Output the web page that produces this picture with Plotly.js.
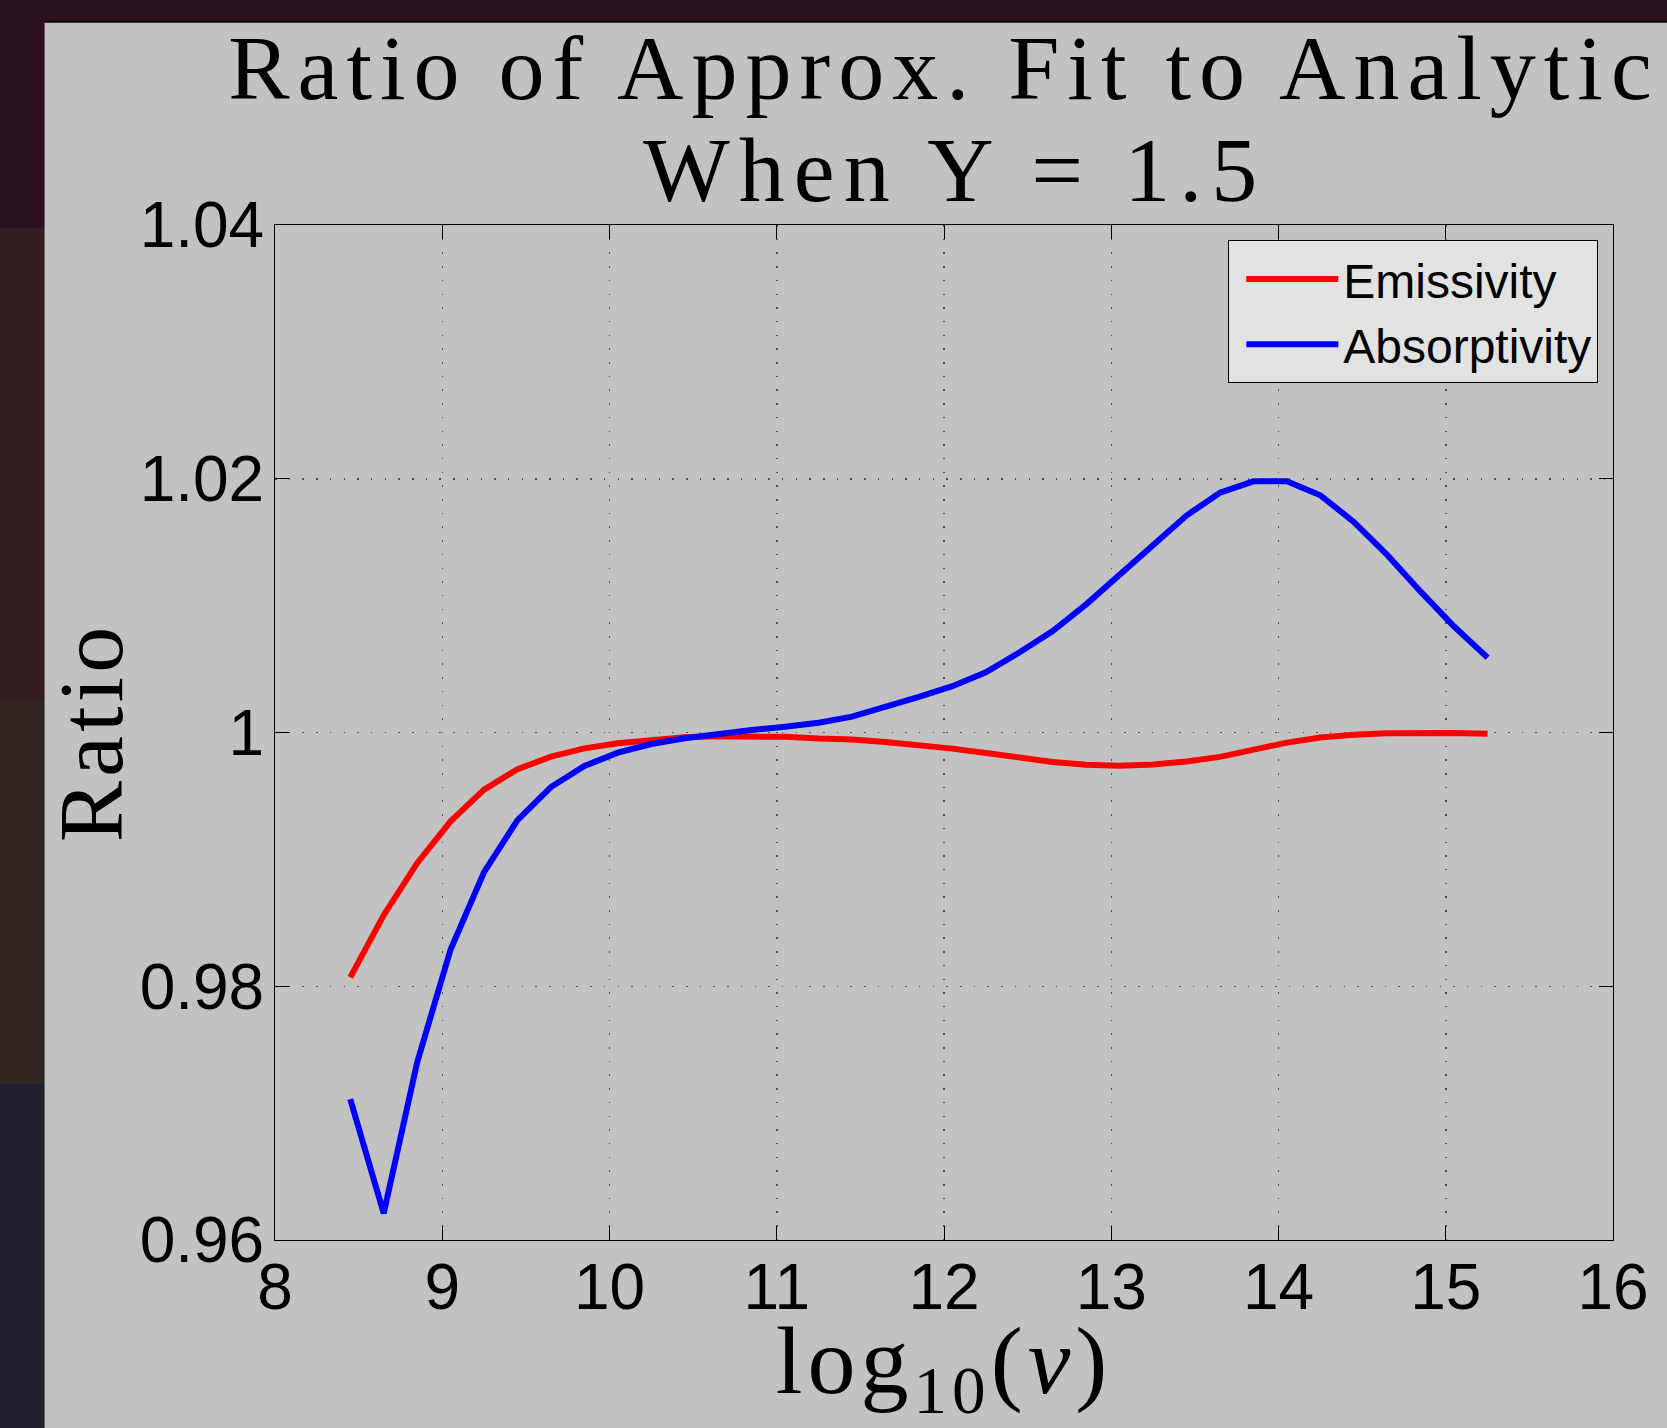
<!DOCTYPE html>
<html>
<head>
<meta charset="utf-8">
<script src="https://cdn.plot.ly/plotly-3.0.1.min.js"></script>
<style>
  html, body { margin: 0; padding: 0; }
  body {
    width: 1667px; height: 1428px; overflow: hidden; position: relative;
    background: linear-gradient(to bottom,
      #2e1121 0px, #2e1121 228px,
      #351e21 228px, #351e21 700px,
      #312621 700px, #312621 1084px,
      #22202f 1084px, #22202f 1428px);
  }
  #chart { position: absolute; left: 0; top: 0; width: 1667px; height: 1428px; }
  .gtitle { letter-spacing: 8px; }
  .annotation-text { letter-spacing: 9px; }
  .ytitle { letter-spacing: 4px; }
  .xtitle { letter-spacing: 5px; }
  .g-ytitle { transform: translateX(27px); }
</style>
</head>
<body>
<div id="chart"></div>
<script>
// log10(nu) sample points
const logNu = [8.45, 8.65, 8.85, 9.05, 9.25, 9.45, 9.65, 9.85, 10.05, 10.25,
               10.45, 10.65, 10.85, 11.05, 11.25, 11.45, 11.65, 11.85, 12.05, 12.25,
               12.45, 12.65, 12.85, 13.05, 13.25, 13.45, 13.65, 13.85, 14.05, 14.25,
               14.45, 14.65, 14.85, 15.05, 15.25];

const emissivity = [0.9807, 0.9856, 0.9897, 0.9930, 0.9955, 0.9971, 0.9981, 0.99875, 0.99915, 0.99942,
                    0.99962, 0.99970, 0.99972, 0.99966, 0.99952, 0.99945, 0.99925, 0.99900, 0.99873, 0.99838,
                    0.99800, 0.99768, 0.99746, 0.99738, 0.99748, 0.99772, 0.99808, 0.99865, 0.99920, 0.99960,
                    0.99983, 0.99994, 1.00000, 0.99996, 0.99990];

const absorptivity = [0.9711, 0.9621, 0.9740, 0.9829, 0.9890, 0.9931, 0.9957, 0.99736, 0.99841, 0.99909,
                      0.99954, 0.99990, 1.00020, 1.00045, 1.00077, 1.00125, 1.00200, 1.00280, 1.00365, 1.00475,
                      1.00630, 1.00800, 1.01010, 1.01240, 1.01480, 1.01710, 1.01890, 1.01980, 1.01980, 1.01870,
                      1.01660, 1.01400, 1.01110, 1.00835, 1.00590];

const xTicks = [8, 9, 10, 11, 12, 13, 14, 15, 16];
const yTicks = [0.96, 0.98, 1, 1.02, 1.04];
const yTickText = ['0.96', '0.98', '1', '1.02', '1.04'];

const seriesNames = ['Emissivity', 'Absorptivity'];
const seriesColors = ['#ff0000', '#0000ff'];

const titleLine1 = 'Ratio of Approx. Fit to Analytic';
const titleLine2 = 'When Y = 1.5';

const serif = 'Liberation Serif, Times New Roman, serif';
const sans = 'Liberation Sans, Arial, Helvetica, sans-serif';

const traces = [
  { x: logNu, y: emissivity, name: seriesNames[0], type: 'scatter', mode: 'lines',
    line: { color: seriesColors[0], width: 6 } },
  { x: logNu, y: absorptivity, name: seriesNames[1], type: 'scatter', mode: 'lines',
    line: { color: seriesColors[1], width: 6 } }
];

const axisCommon = {
  showline: true, linecolor: '#000', linewidth: 1, mirror: 'ticks',
  ticks: 'inside', ticklen: 14, tickwidth: 1, tickcolor: '#000',
  showgrid: true, gridcolor: '#505050', gridwidth: 1.5, griddash: '1.5px,12.2px',
  zeroline: false,
  tickfont: { family: sans, size: 64, color: '#000' }
};

// figure window (gray panel with black top edge), in paper units of the plot area
const panel = { x0: -0.1722, x1: 1.06, y0: -0.2, y1: 1.1996, top: 1.2016 };

const layout = {
  width: 1667, height: 1428,
  paper_bgcolor: 'rgba(0,0,0,0)', plot_bgcolor: 'rgba(0,0,0,0)',
  margin: { l: 275.3, r: 54.3, t: 225.4, b: 188.4, autoexpand: false },
  shapes: [
    { type: 'rect', xref: 'paper', yref: 'paper', layer: 'below',
      x0: panel.x0, x1: panel.x1, y0: panel.y0, y1: panel.y1,
      fillcolor: '#c2c2c2', line: { width: 0 } },
    { type: 'rect', xref: 'paper', yref: 'paper', layer: 'below',
      x0: panel.x0, x1: panel.x1, y0: panel.y1, y1: panel.top,
      fillcolor: '#000000', line: { width: 0 } }
  ],
  title: {
    text: titleLine1,
    font: { family: serif, size: 92, color: '#000' },
    xref: 'paper', x: 0.5, xanchor: 'center',
    yref: 'container', y: 0.9307, yanchor: 'bottom'
  },
  annotations: [{
    text: titleLine2, xref: 'paper', yref: 'paper', x: 0.5075, y: 1.0541,
    xanchor: 'center', yanchor: 'middle', showarrow: false,
    font: { family: serif, size: 92, color: '#000' }
  }],
  xaxis: Object.assign({}, axisCommon, {
    range: [8, 16], tickvals: xTicks, ticktext: xTicks.map(String),
    ticklabelstandoff: -9,
    title: { text: 'log<sub>10</sub>(<i>ν</i>)', font: { family: serif, size: 96, color: '#000' }, standoff: 20 }
  }),
  yaxis: Object.assign({}, axisCommon, {
    range: [0.96, 1.04], tickvals: yTicks, ticktext: yTickText,
    ticklabelstandoff: -3,
    title: { text: 'Ratio', font: { family: serif, size: 92, color: '#000' }, standoff: 13 }
  }),
  showlegend: true,
  legend: {
    x: 0.989, xanchor: 'right', y: 0.985, yanchor: 'top',
    bgcolor: '#e2e2e2', bordercolor: '#000', borderwidth: 1,
    font: { family: sans, size: 48, color: '#000' },
    itemwidth: 92, indentation: 12, tracegroupgap: 0
  },
  hovermode: false
};

Plotly.newPlot('chart', traces, layout, { staticPlot: true, displayModeBar: false });
</script>
</body>
</html>
